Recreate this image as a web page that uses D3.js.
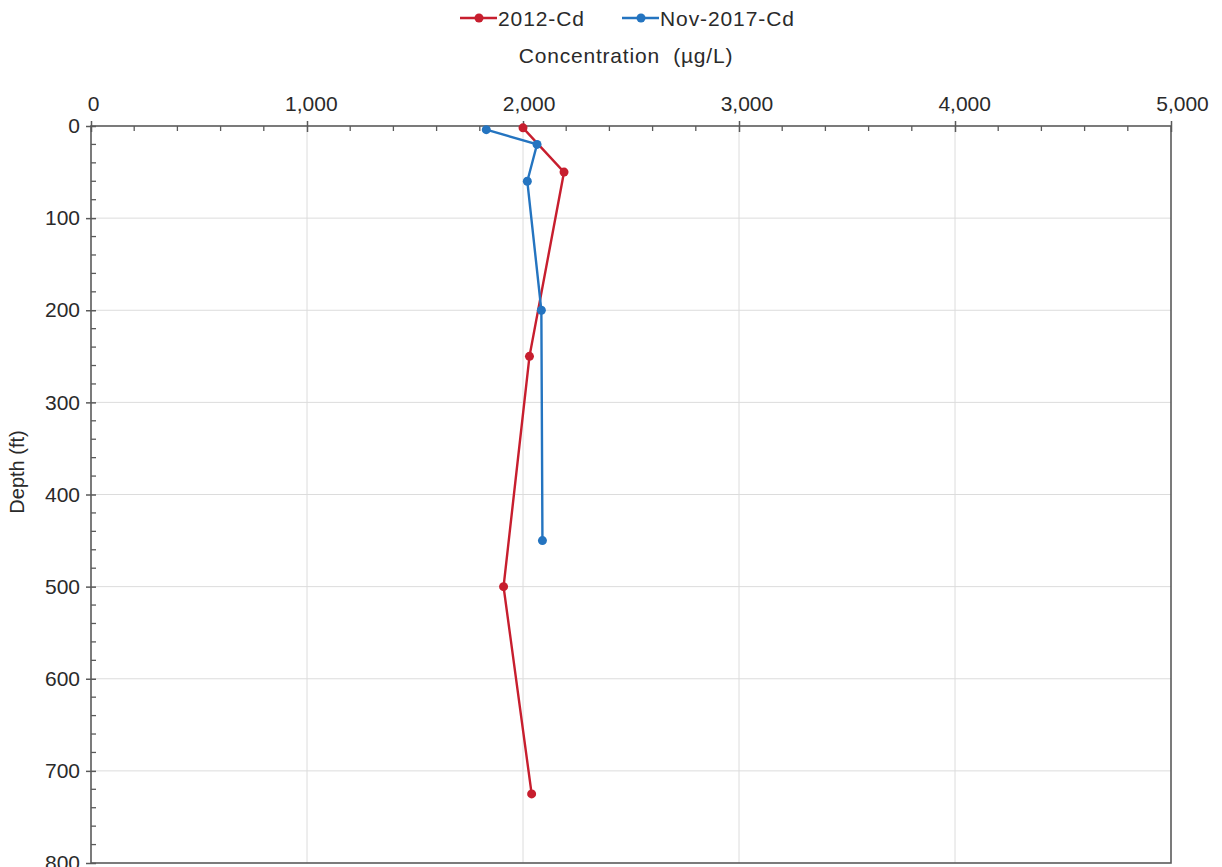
<!DOCTYPE html>
<html><head><meta charset="utf-8">
<script src="https://cdn.jsdelivr.net/npm/d3@7"></script>
<style>body{margin:0;background:#fff;}svg{display:block;font-family:"Liberation Sans",Arial,sans-serif;}</style>
</head><body>
<svg id="c" width="1222" height="867"></svg>
<script>
const seriesNames = ["2012-Cd", "Nov-2017-Cd"];
const seriesColors = ["#c71e2e", "#2474c0"];
const conc2012 = [2000, 2190, 2030, 1910, 2040];
const depth2012 = [2, 50, 250, 500, 725];
const conc2017 = [1830, 2065, 2020, 2085, 2090];
const depth2017 = [4, 20, 60, 200, 450];
const xTicks = [0, 1000, 2000, 3000, 4000, 5000];
const yTicks = [0, 100, 200, 300, 400, 500, 600, 700, 800];

const svg = d3.select("#c");
const L = 91, R = 1171, T = 126, B = 863;
const x = d3.scaleLinear().domain([0, 5000]).range([L, R]);
const y = d3.scaleLinear().domain([0, 800]).range([T, B]);
const axisColor = "#5a5a5a", gridColor = "#dcdcdc", textColor = "#2a2a2a";

// gridlines
svg.append("g").selectAll("line").data(xTicks.slice(1, -1)).join("line")
  .attr("x1", d => x(d)).attr("x2", d => x(d)).attr("y1", T).attr("y2", B)
  .attr("stroke", gridColor).attr("stroke-width", 1);
svg.append("g").selectAll("line").data(yTicks.slice(1, -1)).join("line")
  .attr("y1", d => y(d)).attr("y2", d => y(d)).attr("x1", L).attr("x2", R)
  .attr("stroke", gridColor).attr("stroke-width", 1);

// top axis (major ticks cross, minor inward)
const xAxis = d3.axisTop(x).tickValues(xTicks).tickSize(5).tickPadding(10).tickFormat(d3.format(","));
const gx = svg.append("g").attr("transform", `translate(0,${T})`).call(xAxis);
gx.select(".domain").remove();
gx.selectAll(".tick line").attr("y1", 6).attr("stroke", axisColor).attr("stroke-width", 1.5);
gx.selectAll(".tick text").attr("fill", textColor).style("font-size", "21px").attr("dx", d => 2 + d / 5000 * 9);
const xMinor = d3.range(200, 5000, 200).filter(v => v % 1000 !== 0);
svg.append("g").selectAll("line").data(xMinor).join("line")
  .attr("x1", d => x(d)).attr("x2", d => x(d)).attr("y1", T).attr("y2", T + 5)
  .attr("stroke", axisColor).attr("stroke-width", 1.3);

// left axis
const yAxis = d3.axisLeft(y).tickValues(yTicks).tickSize(5).tickPadding(6);
const gy = svg.append("g").attr("transform", `translate(${L},0)`).call(yAxis);
gy.select(".domain").remove();
gy.selectAll(".tick line").attr("x1", 5).attr("stroke", axisColor).attr("stroke-width", 1.5);
gy.selectAll(".tick text").attr("fill", textColor).style("font-size", "21px");
const yMinor = d3.range(20, 800, 20).filter(v => v % 100 !== 0);
svg.append("g").selectAll("line").data(yMinor).join("line")
  .attr("y1", d => y(d)).attr("y2", d => y(d)).attr("x1", L).attr("x2", L + 5)
  .attr("stroke", axisColor).attr("stroke-width", 1.3);

// frame
svg.append("rect").attr("x", L).attr("y", T).attr("width", R - L).attr("height", B - T)
  .attr("fill", "none").attr("stroke", axisColor).attr("stroke-width", 1.6);

// series
const data = [
  conc2012.map((c, i) => ({c, d: depth2012[i]})),
  conc2017.map((c, i) => ({c, d: depth2017[i]}))
];
const line = d3.line().x(p => x(p.c)).y(p => y(p.d));
data.forEach((s, i) => {
  svg.append("path").datum(s).attr("d", line).attr("fill", "none")
    .attr("stroke", seriesColors[i]).attr("stroke-width", 2.4);
  svg.append("g").selectAll("circle").data(s).join("circle")
    .attr("cx", p => x(p.c)).attr("cy", p => y(p.d)).attr("r", 4.5)
    .attr("fill", seriesColors[i]);
});

// legend
const legX = [460, 622];
seriesNames.forEach((n, i) => {
  const g = svg.append("g").attr("transform", `translate(${legX[i]},18)`);
  g.append("line").attr("x1", 0).attr("x2", 37).attr("y1", 0).attr("y2", 0)
    .attr("stroke", seriesColors[i]).attr("stroke-width", 2.4);
  g.append("circle").attr("cx", 19).attr("cy", 0).attr("r", 4.5).attr("fill", seriesColors[i]);
  g.append("text").attr("x", 38).attr("y", 8).attr("fill", textColor)
    .style("font-size", "21px").style("letter-spacing", "0.9px").text(n);
});

// axis titles
svg.append("text").attr("x", 626).attr("y", 63).attr("text-anchor", "middle")
  .attr("fill", textColor).style("font-size", "21px").style("letter-spacing", "0.8px")
  .attr("xml:space", "preserve").text("Concentration  (µg/L)");
svg.append("text").attr("transform", "translate(24,472) rotate(-90)").attr("text-anchor", "middle")
  .attr("fill", textColor).style("font-size", "20px").text("Depth (ft)");
</script>
</body></html>
